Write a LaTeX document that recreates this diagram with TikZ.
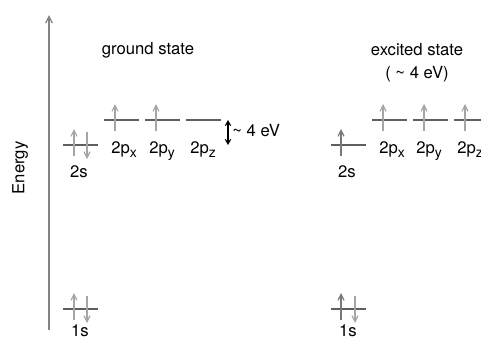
\documentclass[tikz,border=0pt]{standalone}
\usepackage{fontspec}
\setmainfont{TeX Gyre Heros}
\usepackage{tikz}
\usetikzlibrary{arrows.meta}
\definecolor{axisgray}{RGB}{130,130,130}
\definecolor{levelgray}{RGB}{95,95,95}
\definecolor{spinlight}{RGB}{165,165,165}
\definecolor{spindark}{RGB}{120,120,120}
\newcommand\orb[1]{2p\raisebox{-3.5pt}{\fontsize{10.5}{12}\selectfont #1}}
\tikzset{
  txt/.style={font=\fontsize{12.5}{15}\selectfont,inner sep=0pt},
  axis/.style={-{Straight Barb[length=5pt,width=5pt]},axisgray,line width=1pt},
  lev/.style={levelgray,line width=0.9pt},
  spin/.style={-{Straight Barb[length=4.5pt,width=4.5pt]},spinlight,line width=0.9pt},
  spinx/.style={spin,spindark},
  gap/.style={{Straight Barb[length=3.5pt,width=4pt]}-{Straight Barb[length=3.5pt,width=4pt]},black,line width=0.8pt},
}

\begin{document}
\begin{tikzpicture}[x=0.75pt,y=-0.75pt]
  \useasboundingbox (0,0) rectangle (481,340);
  % energy axis
  \coordinate (eb) at (49,330);
  \coordinate (et) at (49,15);
  \draw[axis] (eb) -- (et);
  \node[txt,rotate=90] (energy) at (20,168) {Energy};

  % ground state
  \node[txt] (gtitle) at (148,50) {ground state};
  \coordinate (g1sl) at (63,309);  \coordinate (g1sr) at (98,309);
  \coordinate (g2sl) at (63,145);  \coordinate (g2sr) at (98,145);
  \coordinate (gpxl) at (104,120); \coordinate (gpxr) at (139,120);
  \coordinate (gpyl) at (145,120); \coordinate (gpyr) at (180,120);
  \coordinate (gpzl) at (186,120); \coordinate (gpzr) at (221,120);
  \foreach \o in {g1s,g2s,gpx,gpy,gpz}
    \draw[lev] (\o l) -- (\o r);
  \draw[spin] (74,320) -- (74,293);
  \draw[spin] (87,296) -- (87,323);
  \draw[spin] (74,156) -- (74,129);
  \draw[spin] (87,132) -- (87,159);
  \draw[spin] (115,131) -- (115,104);
  \draw[spin] (156,131) -- (156,104);
  \node[txt] (g1s) at (80,331) {1s};
  \node[txt] (g2s) at (79,172) {2s};
  \node[txt,anchor=base west] (gpx) at (111,153) {\orb{x}};
  \node[txt,anchor=base west] (gpy) at (149,153) {\orb{y}};
  \node[txt,anchor=base west] (gpz) at (190,153) {\orb{z}};
  \coordinate (gapt) at (228,120);
  \coordinate (gapb) at (228,145);
  \draw[gap] (gapb) -- (gapt);
  \node[txt,anchor=west] (gapl) at (232,131) {\textasciitilde\ 4 eV};

  % excited state
  \node[txt] (xtitle) at (417,50) {excited state};
  \node[txt] (xsub) at (417,74) {( \textasciitilde\ 4 eV)};
  \coordinate (x1sl) at (331,309); \coordinate (x1sr) at (366,309);
  \coordinate (x2sl) at (331,145); \coordinate (x2sr) at (366,145);
  \coordinate (xpxl) at (372,120); \coordinate (xpxr) at (407,120);
  \coordinate (xpyl) at (413,120); \coordinate (xpyr) at (448,120);
  \coordinate (xpzl) at (454,120); \coordinate (xpzr) at (481,120);
  \foreach \o in {x1s,x2s,xpx,xpy,xpz}
    \draw[lev] (\o l) -- (\o r);
  \draw[spinx] (341,320) -- (341,293);
  \draw[spin] (355,296) -- (355,323);
  \draw[spinx] (341,156) -- (341,129);
  \draw[spin] (383,131) -- (383,104);
  \draw[spin] (424,131) -- (424,104);
  \draw[spin] (465,131) -- (465,104);
  \node[txt] (x1s) at (348,331) {1s};
  \node[txt] (x2s) at (347,172) {2s};
  \node[txt,anchor=base west] (xpx) at (379,153) {\orb{x}};
  \node[txt,anchor=base west] (xpy) at (416,153) {\orb{y}};
  \node[txt,anchor=base west] (xpz) at (457,153) {\orb{z}};
\end{tikzpicture}
\end{document}
